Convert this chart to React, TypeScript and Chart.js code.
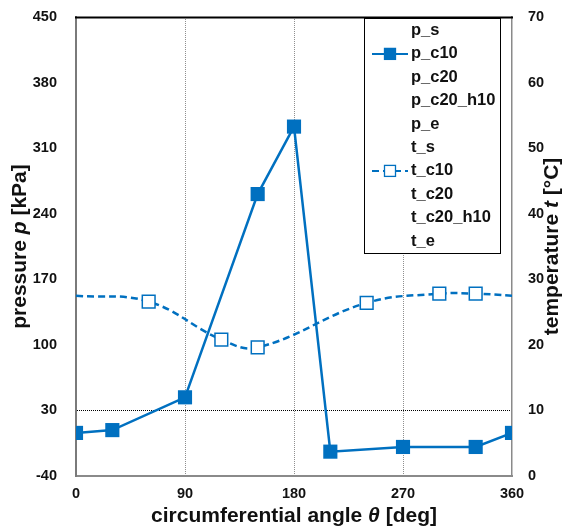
import React, { useEffect, useRef } from 'react';
import { Chart, registerables } from 'chart.js';

Chart.register(...registerables);

// ---- data ----
const angleTicks = [0, 90, 180, 270, 360];
const pressureTicks = [-40, 30, 100, 170, 240, 310, 380, 450];
const temperatureTicks = [0, 10, 20, 30, 40, 50, 60, 70];
const angleGridValues = [90, 180, 270];
const pressureRefValue = 30;

const pAngles = [0, 30, 90, 150, 180, 210, 270, 330, 360];
const pC10 = [6, 9, 44, 261, 333, -14, -9, -9, 6];

const tAngles = [0, 60, 120, 150, 240, 300, 330, 360];
const tC10 = [27.5, 26.6, 20.8, 19.6, 26.4, 27.8, 27.8, 27.5];
const tC10Markers = [false, true, true, true, true, true, true, false];

const seriesLabels = ['p_s', 'p_c10', 'p_c20', 'p_c20_h10', 'p_e', 't_s', 't_c10', 't_c20', 't_c20_h10', 't_e'];

const xTitle = [
  { text: 'circumferential angle ', italic: false },
  { text: 'θ', italic: true },
  { text: ' [deg]', italic: false },
];
const yTitle = [
  { text: 'pressure ', italic: false },
  { text: 'p', italic: true },
  { text: ' [kPa]', italic: false },
];
const y2Title = [
  { text: 'temperature ', italic: false },
  { text: 't', italic: true },
  { text: ' [°C]', italic: false },
];

const BLUE = '#0070C0';
const FONT = '"Liberation Sans", Arial, sans-serif';
const TEXT = '#111111';

function drawMixed(ctx: CanvasRenderingContext2D, parts: { text: string; italic: boolean }[], size: number) {
  const fonts = parts.map(p => `${p.italic ? 'italic ' : ''}bold ${size}px ${FONT}`);
  let total = 0;
  const widths = parts.map((p, i) => {
    ctx.font = fonts[i];
    const w = ctx.measureText(p.text).width;
    total += w;
    return w;
  });
  let x = -total / 2;
  ctx.textAlign = 'left';
  ctx.textBaseline = 'alphabetic';
  ctx.fillStyle = TEXT;
  parts.forEach((p, i) => {
    ctx.font = fonts[i];
    ctx.fillText(p.text, x, 0);
    x += widths[i];
  });
}

const decorPlugin = {
  id: 'decor',
  beforeDatasetsDraw(chart: any) {
    const { ctx, chartArea } = chart;
    ctx.save();
    ctx.strokeStyle = '#000';
    ctx.lineWidth = 2;
    ctx.beginPath();
    ctx.moveTo(chartArea.left - 1, chartArea.top + 0.5);
    ctx.lineTo(chartArea.right + 1, chartArea.top + 0.5);
    ctx.stroke();
    ctx.restore();
  },
  afterDatasetsDraw(chart: any) {
    const { ctx, chartArea } = chart;
    // legend box
    const left = chartArea.right - 148;
    const right = chartArea.right - 12;
    const top = chartArea.top + 1;
    const bottom = chartArea.top + 236;
    ctx.save();
    ctx.fillStyle = '#fff';
    ctx.fillRect(left, top, right - left, bottom - top);
    ctx.strokeStyle = '#000';
    ctx.lineWidth = 1;
    ctx.strokeRect(Math.round(left) + 0.5, Math.round(top) + 0.5, right - left, bottom - top);
    chart.data.datasets.forEach((ds: any, i: number) => {
      const y = chartArea.top + 13.5 + i * 23.4;
      if (ds.data.length > 0) {
        ctx.save();
        ctx.strokeStyle = ds.borderColor;
        ctx.lineWidth = 2;
        ctx.setLineDash(ds.borderDash || []);
        ctx.beginPath();
        ctx.moveTo(left + 8, y);
        ctx.lineTo(left + 44, y);
        ctx.stroke();
        ctx.setLineDash([]);
        const s = 11;
        ctx.fillStyle = ds.legendFill;
        ctx.fillRect(left + 26 - s / 2, y - s / 2, s, s);
        ctx.lineWidth = 1.3;
        ctx.strokeStyle = ds.borderColor;
        ctx.strokeRect(left + 26 - s / 2, y - s / 2, s, s);
        ctx.restore();
      }
      ctx.fillStyle = TEXT;
      ctx.font = `bold 16.5px ${FONT}`;
      ctx.textAlign = 'left';
      ctx.textBaseline = 'middle';
      ctx.fillText(ds.label, left + 47, y);
    });
    ctx.restore();
  },
  afterDraw(chart: any) {
    const { ctx, chartArea } = chart;
    const cy = (chartArea.top + chartArea.bottom) / 2;
    ctx.save();
    ctx.translate((chartArea.left + chartArea.right) / 2, 522);
    drawMixed(ctx, xTitle, 21);
    ctx.restore();

    ctx.save();
    ctx.translate(26, cy);
    ctx.rotate(-Math.PI / 2);
    drawMixed(ctx, yTitle, 21);
    ctx.restore();

    ctx.save();
    ctx.translate(558, cy);
    ctx.rotate(-Math.PI / 2);
    drawMixed(ctx, y2Title, 21);
    ctx.restore();
  },
};

export default function App() {
  const ref = useRef<HTMLCanvasElement | null>(null);

  useEffect(() => {
    document.body.style.margin = '0';
    const canvas = ref.current;
    if (!canvas) return;

    const datasets: any[] = seriesLabels.map(label => {
      if (label === 'p_c10') {
        return {
          label,
          data: pAngles.map((x, i) => ({ x, y: pC10[i] })),
          yAxisID: 'y',
          borderColor: BLUE,
          backgroundColor: BLUE,
          borderWidth: 2.5,
          pointStyle: 'rect',
          pointRadius: 10,
          pointBackgroundColor: BLUE,
          pointBorderColor: BLUE,
          pointBorderWidth: 0,
          tension: 0,
          legendFill: BLUE,
        };
      }
      if (label === 't_c10') {
        return {
          label,
          data: tAngles.map((x, i) => ({ x, y: tC10[i] })),
          yAxisID: 'yT',
          borderColor: BLUE,
          backgroundColor: '#fff',
          borderWidth: 2.5,
          borderDash: [7, 4],
          pointStyle: 'rect',
          pointRadius: tC10Markers.map(m => (m ? 9 : 0)),
          pointBackgroundColor: '#fff',
          pointBorderColor: BLUE,
          pointBorderWidth: 1.5,
          tension: 0.4,
          legendFill: '#fff',
        };
      }
      return { label, data: [], yAxisID: label.startsWith('p') ? 'y' : 'yT', borderColor: BLUE };
    });

    const tickFont = { family: FONT, size: 14.5, weight: 'bold' as const };
    const noPadV = (s: any) => { s.paddingTop = 0; s.paddingBottom = 0; };
    const noPadH = (s: any) => { s.paddingLeft = 0; s.paddingRight = 0; };

    const chart = new Chart(canvas, {
      type: 'line',
      data: { datasets },
      options: {
        animation: false,
        responsive: false,
        devicePixelRatio: 1,
        layout: { padding: { top: 17, left: 0, right: 0, bottom: 0 } },
        plugins: { legend: { display: false }, tooltip: { enabled: false } },
        scales: {
          x: {
            type: 'linear',
            position: 'bottom',
            min: 0,
            max: 360,
            afterBuildTicks: (s: any) => { s.ticks = angleTicks.map(v => ({ value: v })); },
            afterFit: (s: any) => { s.height = 53; noPadH(s); },
            ticks: { font: tickFont, color: TEXT, padding: 9, maxRotation: 0 },
            grid: {
              drawTicks: false,
              lineWidth: 1,
              color: (c: any) => (c.tick && angleGridValues.includes(c.tick.value) ? '#8f8f8f' : 'transparent'),
            },
            border: { color: '#8a8a8a', width: 2, dash: [1, 1] },
          },
          y: {
            type: 'linear',
            position: 'left',
            min: -40,
            max: 450,
            afterBuildTicks: (s: any) => { s.ticks = pressureTicks.map(v => ({ value: v })); },
            afterFit: (s: any) => { s.width = 76; noPadV(s); },
            ticks: { font: tickFont, color: TEXT, padding: 19 },
            grid: {
              drawTicks: false,
              lineWidth: 1,
              color: (c: any) => (c.tick && c.tick.value === pressureRefValue ? '#000' : 'transparent'),
            },
            border: { color: '#7a7a7a', width: 2, dash: [1, 1] },
          },
          yT: {
            type: 'linear',
            position: 'right',
            min: 0,
            max: 70,
            afterBuildTicks: (s: any) => { s.ticks = temperatureTicks.map(v => ({ value: v })); },
            afterFit: (s: any) => { s.width = 50; noPadV(s); },
            ticks: { font: tickFont, color: TEXT, padding: 16 },
            grid: { display: false, drawTicks: false },
            border: { color: '#8a8a8a', width: 1.5 },
          },
        },
      } as any,
      plugins: [decorPlugin],
    });
    return () => chart.destroy();
  }, []);

  return (
    <div style={{ position: 'fixed', left: 0, top: 0, width: 562, height: 529, background: '#fff' }}>
      <canvas ref={ref} width={562} height={529} />
    </div>
  );
}
